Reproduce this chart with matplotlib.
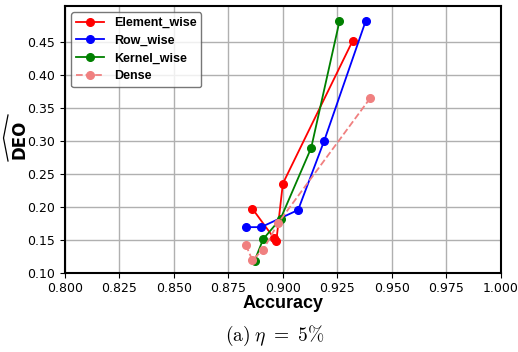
import matplotlib
matplotlib.use("Agg")
import matplotlib.pyplot as plt
from matplotlib.lines import Line2D

# Accuracy / DEO trade-off for each pruning granularity
element_acc = [0.886, 0.896, 0.897, 0.900, 0.932]
element_deo = [0.197, 0.152, 0.148, 0.235, 0.451]

row_acc = [0.883, 0.890, 0.907, 0.919, 0.938]
row_deo = [0.169, 0.169, 0.195, 0.300, 0.481]

kernel_acc = [0.887, 0.891, 0.899, 0.913, 0.926]
kernel_deo = [0.118, 0.151, 0.182, 0.289, 0.481]

dense_acc = [0.883, 0.886, 0.891, 0.898, 0.940]
dense_deo = [0.142, 0.119, 0.135, 0.176, 0.364]

x_ticks = [0.800, 0.825, 0.850, 0.875, 0.900, 0.925, 0.950, 0.975, 1.000]
y_ticks = [0.10, 0.15, 0.20, 0.25, 0.30, 0.35, 0.40, 0.45]

W, H = 518, 352
fig = plt.figure(figsize=(W / 100, H / 100), dpi=100)
ax = fig.add_axes([0.1255, 0.2253, 0.8411, 0.7577])

ax.plot(element_acc, element_deo, "-o", color="red", lw=1.3, ms=5.5, label="Element_wise")
ax.plot(row_acc, row_deo, "-o", color="blue", lw=1.3, ms=5.5, label="Row_wise")
ax.plot(kernel_acc, kernel_deo, "-o", color="green", lw=1.3, ms=5.5, label="Kernel_wise")
ax.plot(dense_acc, dense_deo, "--o", color="lightcoral", lw=1.3, ms=5.5, label="Dense")

ax.set_xlim(0.8, 1.0)
ax.set_ylim(0.10, 0.504)
ax.set_xticks(x_ticks)
ax.set_xticklabels([f"{v:.3f}" for v in x_ticks])
ax.set_yticks(y_ticks)
ax.set_yticklabels([f"{v:.2f}" for v in y_ticks])
ax.tick_params(labelsize=9, direction="out", length=3.5)
ax.grid(True, color="#b0b0b0", lw=1.0)
ax.set_axisbelow(True)
for s in ax.spines.values():
    s.set_linewidth(1.5)
    s.set_color("black")

ax.set_xlabel("Accuracy", fontsize=13, fontweight="bold",
              family="Liberation Sans", labelpad=0)
ax.set_ylabel("DEO", fontsize=12, fontweight="bold")
ax.yaxis.set_label_coords(-0.084, 0.5)

# wide hat over the rotated "DEO" label (estimator notation)
hx = [8.0 / W, 3.5 / W, 8.0 / W]
hy = [1 - 115 / H, 1 - 138 / H, 1 - 161 / H]
fig.add_artist(Line2D(hx, hy, transform=fig.transFigure, color="black",
                      lw=0.9, solid_joinstyle="round"))

leg = ax.legend(loc="upper left",
                prop={"weight": "bold", "size": 9, "family": "Liberation Sans"},
                frameon=True, fancybox=True, edgecolor="#555555",
                handlelength=2.2, labelspacing=0.45, borderpad=0.4)
leg.get_frame().set_linewidth(1.0)

fig.text(0.531, 0.045, r"$\mathrm{(a)}\;\eta\ =\ 5\%$", ha="center", va="center",
         fontsize=14, math_fontfamily="cm")

fig.savefig("out.png", dpi=100)
